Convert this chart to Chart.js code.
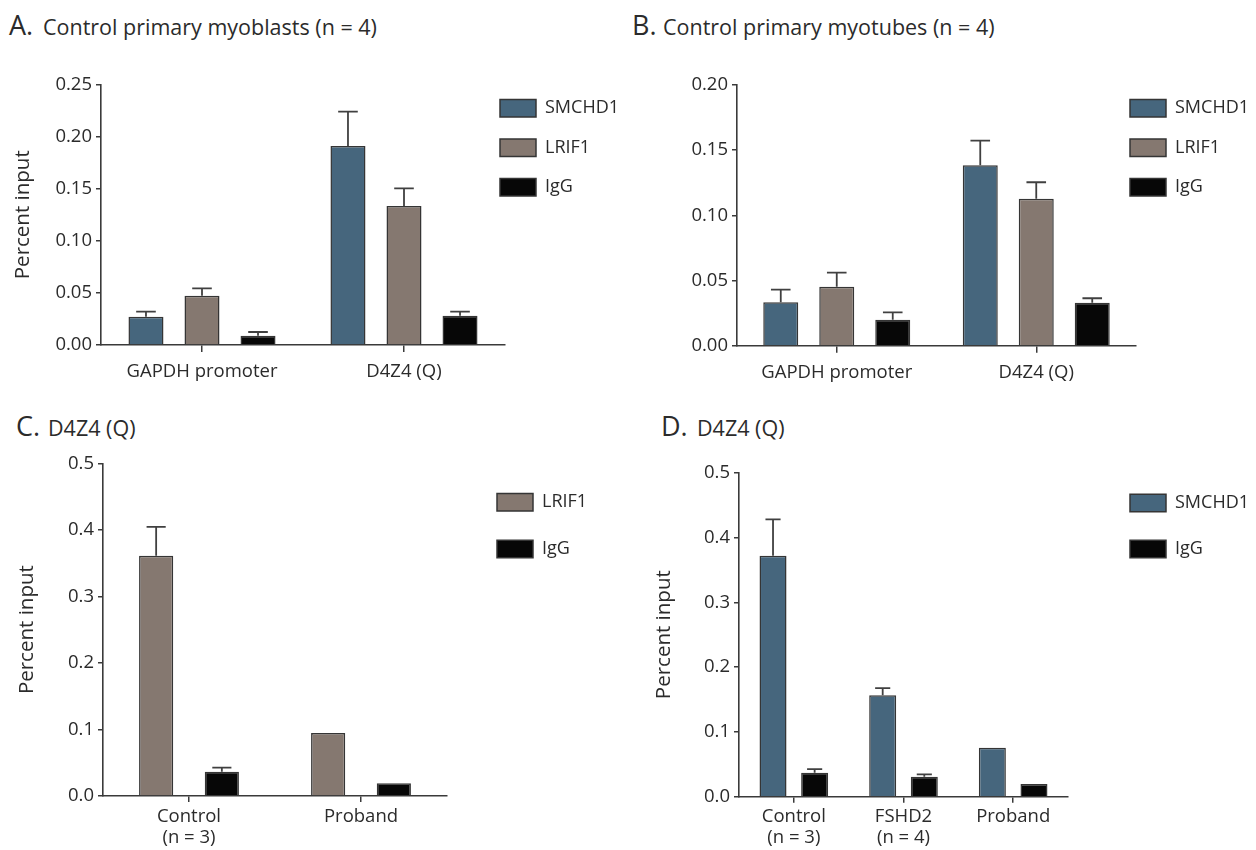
<!DOCTYPE html>
<html><head><meta charset="utf-8">
<script src="https://cdn.jsdelivr.net/npm/chart.js@4.4.1/dist/chart.umd.min.js"></script>
<style>
html,body{margin:0;padding:0;background:#fff;}
body{width:1256px;height:850px;position:relative;overflow:hidden;font-family:'Open Sans',sans-serif;color:#2b2b2b;}
canvas{position:absolute;left:0;top:0;}
.L{position:absolute;white-space:nowrap;font-size:27px;line-height:27px;}
.S{position:absolute;white-space:nowrap;font-size:21.5px;line-height:27px;}
</style></head><body>
<div class="L" style="left:9px;top:10.5px">A.</div><div class="S" style="left:43px;top:12.7px">Control primary myoblasts (n = 4)</div>
<div class="L" style="left:632px;top:10.5px">B.</div><div class="S" style="left:663px;top:12.7px">Control primary myotubes (n = 4)</div>
<div class="L" style="left:16px;top:411.5px">C.</div><div class="S" style="left:48px;top:413.7px">D4Z4 (Q)</div>
<div class="L" style="left:661px;top:411.5px">D.</div><div class="S" style="left:697px;top:413.7px">D4Z4 (Q)</div>
<script>
// ---- categories ----
const categoriesAB = ['GAPDH promoter', 'D4Z4 (Q)'];
const categoriesC = [['Control', '(n = 3)'], 'Proband'];
const categoriesD = [['Control', '(n = 3)'], ['FSHD2', '(n = 4)'], 'Proband'];

// ---- panel A: myoblasts ----
const smchd1A = [0.0272, 0.191];
const smchd1A_err = [0.0048, 0.0329];
const lrif1A = [0.0473, 0.1334];
const lrif1A_err = [0.0071, 0.017];
const iggA = [0.0089, 0.0281];
const iggA_err = [0.0036, 0.0039];

// ---- panel B: myotubes ----
const smchd1B = [0.0333, 0.1384];
const smchd1B_err = [0.0097, 0.0189];
const lrif1B = [0.0453, 0.1128];
const lrif1B_err = [0.0107, 0.0126];
const iggB = [0.0199, 0.033];
const iggB_err = [0.0057, 0.0034];

// ---- panel C ----
const lrif1C = [0.361, 0.0947];
const lrif1C_err = [0.0435, null];
const iggC = [0.0366, 0.019];
const iggC_err = [0.006, null];

// ---- panel D ----
const smchd1D = [0.372, 0.1564, 0.0756];
const smchd1D_err = [0.056, 0.0113, null];
const iggD = [0.037, 0.0309, 0.0196];
const iggD_err = [0.0057, 0.0036, null];

// ---- tick labels ----
const yTicksA = ['0.00', '0.05', '0.10', '0.15', '0.20', '0.25'];
const yTicksB = ['0.00', '0.05', '0.10', '0.15', '0.20'];
const yTicksCD = ['0.0', '0.1', '0.2', '0.3', '0.4', '0.5'];
const yAxisTitle = 'Percent input';

const C_SMCHD1 = '#46667d', C_LRIF1 = '#857870', C_IGG = '#070707';
const EDGE = '#353535', AX = '#3a3a3a', TXT = '#2b2b2b', ERR = '#404040';
Chart.defaults.font.family = "'Open Sans', sans-serif";

const errorBars = {
  id: 'errorBars',
  afterDatasetsDraw(chart) {
    const ctx = chart.ctx, ys = chart.scales.y;
    chart.data.datasets.forEach((ds, i) => {
      if (!ds.errors) return;
      chart.getDatasetMeta(i).data.forEach((bar, j) => {
        const e = ds.errors[j];
        if (e == null) return;
        const top = ys.getPixelForValue(ds.data[j] + e);
        const x = bar.x, hw = bar.width * 0.28;
        ctx.save();
        ctx.strokeStyle = ERR; ctx.lineWidth = 1.8;
        ctx.beginPath();
        ctx.moveTo(x, bar.y); ctx.lineTo(x, top);
        ctx.moveTo(x - hw, top); ctx.lineTo(x + hw, top);
        ctx.stroke();
        ctx.restore();
      });
    });
  }
};
const legendPlace = {
  id: 'legendPlace',
  afterLayout(chart, args, opts) {
    const L = chart.legend; if (!L) return;
    const p = chart.options.plugins.legend.labels.padding;
    L.left = opts.x - p; L.top = opts.y - p;
    L.right = L.left + 400; L.bottom = L.top + 300;
    L.width = 400; L.height = 300;
  }
};

function panel(o) {
  const cv = document.createElement('canvas');
  cv.width = 1256; cv.height = 850;
  document.body.appendChild(cv);
  const XH = 60;
  new Chart(cv, {
    type: 'bar',
    data: {
      labels: o.labels,
      datasets: o.series.map(s => ({
        label: s.name, data: s.data, errors: s.err,
        backgroundColor: s.color, borderColor: EDGE, borderWidth: 1.5,
        barPercentage: o.bp, categoryPercentage: o.cp
      }))
    },
    options: {
      responsive: false, animation: false, devicePixelRatio: 1,
      layout: { padding: { left: o.padL, top: o.area.t, right: 1256 - o.area.r, bottom: 850 - o.area.b - XH } },
      plugins: {
        legend: { position: 'chartArea', align: 'start',
          labels: { boxWidth: 36, boxHeight: 17.5, padding: o.legPad, color: TXT, font: { size: 18 } } },
        tooltip: { enabled: false },
        legendPlace: { x: o.legX, y: o.legY }
      },
      scales: {
        x: {
          grid: { display: true, drawOnChartArea: false, drawTicks: true, tickLength: o.xTick, offset: false, color: AX, lineWidth: 1.5 },
          border: { display: true, color: AX, width: 1.6 },
          ticks: { color: TXT, font: { size: 18.5, lineHeight: o.xLH }, padding: o.xPad, maxRotation: 0, autoSkip: false },
          afterFit: s => { s.height = XH; }
        },
        y: {
          min: 0, max: o.max,
          ticks: { stepSize: o.step, callback: (v, i) => o.ticks[i], color: TXT, font: { size: 18.5 }, padding: 4 },
          grid: { drawOnChartArea: false, tickLength: 5, color: AX, lineWidth: 1.5 },
          border: { display: true, color: AX, width: 1.6 },
          title: { display: o.yTitle, text: yAxisTitle, font: { size: 20.5 }, color: TXT, padding: 0 },
          afterFit: s => { s.width = o.yW; }
        }
      }
    },
    plugins: [errorBars, legendPlace]
  });
}

panel({ labels: categoriesAB, area: { l: 101, t: 84.5, r: 505, b: 345 }, padL: 10.7, yW: 90.3,
  max: 0.25, step: 0.05, ticks: yTicksA, yTitle: true, bp: 0.625, cp: 0.832,
  legPad: 21.5, legX: 500, legY: 99.3, xTick: 7, xPad: 8.5, xLH: 1.2,
  series: [
    { name: 'SMCHD1', data: smchd1A, err: smchd1A_err, color: C_SMCHD1 },
    { name: 'LRIF1', data: lrif1A, err: lrif1A_err, color: C_LRIF1 },
    { name: 'IgG', data: iggA, err: iggA_err, color: C_IGG } ] });

panel({ labels: categoriesAB, area: { l: 737, t: 85, r: 1136, b: 345.7 }, padL: 637, yW: 100,
  max: 0.20, step: 0.05, ticks: yTicksB, yTitle: false, bp: 0.625, cp: 0.842,
  legPad: 21.5, legX: 1130, legY: 99.3, xTick: 7, xPad: 8.5, xLH: 1.2,
  series: [
    { name: 'SMCHD1', data: smchd1B, err: smchd1B_err, color: C_SMCHD1 },
    { name: 'LRIF1', data: lrif1B, err: lrif1B_err, color: C_LRIF1 },
    { name: 'IgG', data: iggB, err: iggB_err, color: C_IGG } ] });

panel({ labels: categoriesC, area: { l: 103, t: 463.3, r: 447, b: 796 }, padL: 15.2, yW: 87.8,
  max: 0.5, step: 0.1, ticks: yTicksCD, yTitle: true, bp: 0.52, cp: 0.764,
  legPad: 28.6, legX: 497, legY: 493.3, xTick: 6, xPad: 4, xLH: 1.13,
  series: [
    { name: 'LRIF1', data: lrif1C, err: lrif1C_err, color: C_LRIF1 },
    { name: 'IgG', data: iggC, err: iggC_err, color: C_IGG } ] });

panel({ labels: categoriesD, area: { l: 739, t: 472.7, r: 1068, b: 796.7 }, padL: 652.3, yW: 86.7,
  max: 0.5, step: 0.1, ticks: yTicksCD, yTitle: true, bp: 0.649, cp: 0.759,
  legPad: 28, legX: 1130, legY: 494, xTick: 6, xPad: 3.5, xLH: 1.13,
  series: [
    { name: 'SMCHD1', data: smchd1D, err: smchd1D_err, color: C_SMCHD1 },
    { name: 'IgG', data: iggD, err: iggD_err, color: C_IGG } ] });
</script>
</body></html>
